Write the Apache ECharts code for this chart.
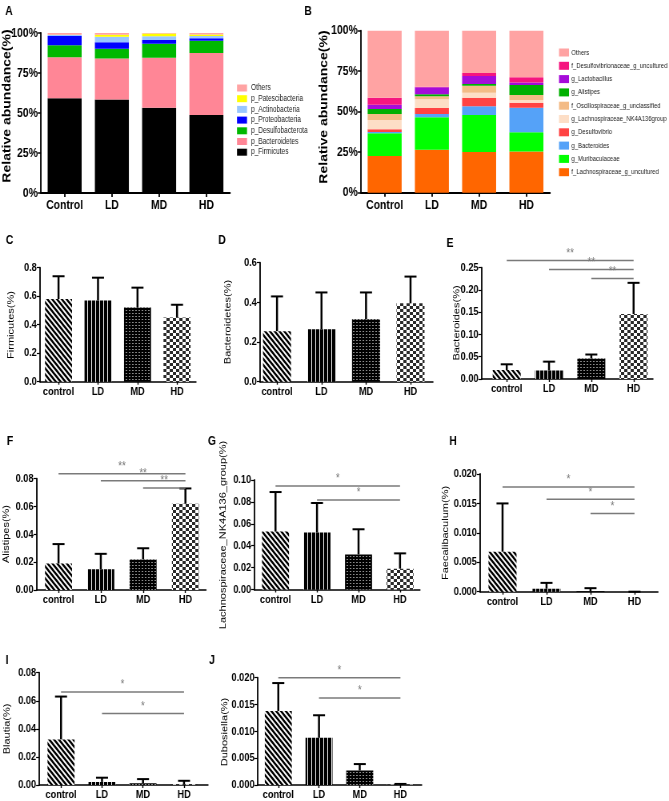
<!DOCTYPE html>
<html><head><meta charset="utf-8">
<script src="https://cdn.jsdelivr.net/npm/echarts@6/dist/echarts.min.js"></script>
<style>
html,body{margin:0;padding:0;background:#fff;overflow:hidden}
#wrap{width:669px;height:801px;overflow:hidden}
#c{width:836px;height:801px;transform:scaleX(0.80024);transform-origin:0 0}
</style>
</head><body><div id="wrap"><div id="c"></div></div>
<script>
// ---------------- DATA ----------------
const groupsAB = ['Control', 'LD', 'MD', 'HD'];
const groups = ['control', 'LD', 'MD', 'HD'];

// Panel A (phylum, %), bottom -> top
const phylumNames = ['p_Firmicutes', 'p_Bacteroidetes', 'p_Desulfobacterota', 'p_Proteobacteria', 'p_Actinobacteria', 'p_Patescibacteria', 'Others'];
const A_Firmicutes = [59.2, 58.5, 53.3, 48.8];
const A_Bacteroidetes = [25.6, 25.5, 31.3, 38.7];
const A_Desulfobacterota = [7.5, 6.2, 8.7, 7.7];
const A_Proteobacteria = [5.8, 4.0, 2.3, 1.5];
const A_Actinobacteria = [0.6, 3.5, 2.3, 1.5];
const A_Patescibacteria = [0.2, 1.2, 1.8, 0.9];
const A_Others = [1.1, 1.1, 0.3, 0.9];

// Panel B (genus, %), bottom -> top
const genusNames = ['f_Lachnospiraceae_g_uncultured', 'g_Muribaculaceae', 'g_Bacteroides', 'g_Desulfovibrio', 'g_Lachnospiraceae_NK4A136group', 'f_Oscillospiraceae_g_unclassified', 'g_Alistipes', 'g_Lactobacillus', 'f_Desulfovibrionaceae_g_uncultured', 'Others'];
const B_LachnoUncultured = [22.7, 26.5, 25.1, 25.5];
const B_Muribaculaceae = [14.0, 20.0, 22.9, 11.8];
const B_Bacteroides = [0.8, 2.1, 5.3, 15.2];
const B_Desulfovibrio = [1.6, 3.7, 5.3, 3.1];
const B_LachnoNK4A136 = [5.8, 5.4, 3.1, 1.6];
const B_Oscillospiraceae = [3.7, 1.8, 4.3, 3.1];
const B_Alistipes = [3.1, 1.2, 1.1, 6.2];
const B_Lactobacillus = [2.6, 4.4, 4.9, 1.6];
const B_DesulfoUncultured = [4.3, 0.3, 1.9, 3.1];
const B_Others = [41.4, 34.6, 26.1, 28.8];

// Panels C-J: mean and SD
const C_mean = [0.58, 0.57, 0.52, 0.45], C_sd = [0.16, 0.16, 0.14, 0.09];
const D_mean = [0.255, 0.265, 0.315, 0.395], D_sd = [0.175, 0.185, 0.135, 0.135];
const E_mean = [0.020, 0.019, 0.046, 0.146], E_sd = [0.013, 0.020, 0.009, 0.070];
const F_mean = [0.019, 0.015, 0.022, 0.062], F_sd = [0.014, 0.011, 0.008, 0.011];
const G_mean = [0.053, 0.052, 0.032, 0.019], G_sd = [0.036, 0.027, 0.023, 0.014];
const H_mean = [0.0068, 0.0005, 0.0001, 0.0], H_sd = [0.0082, 0.0010, 0.0005, 0.0];
const I_mean = [0.0325, 0.0022, 0.0012, 0.0006], I_sd = [0.0305, 0.0030, 0.0030, 0.0024];
const J_mean = [0.0138, 0.0088, 0.0027, 0.0001], J_sd = [0.0052, 0.0042, 0.0012, 0.0001];

// significance brackets: [fromGroup, toGroup, yValue]
const E_sig = [[0, 3, 0.266], [1, 3, 0.246], [2, 3, 0.226]], E_sigText = ['**', '**', '**'];
const F_sig = [[0, 3, 0.0835], [1, 3, 0.0786], [2, 3, 0.0734]], F_sigText = ['**', '**', '**'];
const G_sig = [[0, 3, 0.0945], [1, 3, 0.0817]], G_sigText = ['*', '*'];
const H_sig = [[0, 3, 0.0178], [1, 3, 0.0157], [2, 3, 0.0133]], H_sigText = ['*', '*', '*'];
const I_sig = [[0, 3, 0.0662], [1, 3, 0.051]], I_sigText = ['*', '*'];
const J_sig = [[0, 3, 0.0200], [1, 3, 0.0162]], J_sigText = ['*', '*'];

// ---------------- STYLE / LAYOUT ----------------
// The figure is horizontally condensed: the chart is drawn on a wider canvas and squeezed by S.
const S = 0.80024;
const X = v => v / S;
const FONT = "'Liberation Sans',Arial,sans-serif";
const colorsA = ['#000000', '#FF8696', '#00B800', '#0000FF', '#99C6FF', '#FFFF00', '#FFA3A3'];
const colorsB = ['#FF6600', '#00FF00', '#55A2F8', '#FF4343', '#FDDEC6', '#F3BB86', '#00B000', '#A50BD9', '#F5167F', '#FFA3A3'];

function makePattern(kind) {
  const c = document.createElement('canvas');
  const ctx = c.getContext('2d');
  if (kind === 'diag') {
    c.width = 6; c.height = 6;
    ctx.fillStyle = '#fff'; ctx.fillRect(0, 0, 6, 6);
    ctx.strokeStyle = '#000'; ctx.lineWidth = 2.3;
    for (let k = -2; k <= 2; k++) { ctx.beginPath(); ctx.moveTo(-1, -1 + k * 6); ctx.lineTo(7, 7 + k * 6); ctx.stroke(); }
  } else if (kind === 'vert') {
    c.width = 5; c.height = 4;
    ctx.fillStyle = '#000'; ctx.fillRect(0, 0, 5, 4);
    ctx.fillStyle = '#f0f0f0'; ctx.fillRect(4, 0, 1, 4);
  } else if (kind === 'dots') {
    c.width = 4; c.height = 3;
    ctx.fillStyle = '#000'; ctx.fillRect(0, 0, 4, 3);
    ctx.fillStyle = '#8a8a8a'; ctx.fillRect(1, 1, 2, 1);
  } else {
    c.width = 8; c.height = 6;
    ctx.fillStyle = '#fff'; ctx.fillRect(0, 0, 8, 6);
    ctx.fillStyle = '#2a2a2a'; ctx.fillRect(0, 0, 4, 3); ctx.fillRect(4, 3, 4, 3);
  }
  return { image: c, repeat: 'repeat' };
}
const patterns = [makePattern('diag'), makePattern('vert'), makePattern('dots'), makePattern('check')];

const grids = [], xAxes = [], yAxes = [], series = [], graphics = [];

function addText(x, y, text, size, bold, rot) {
  graphics.push({
    type: 'text', x: X(x), y: y, rotation: rot ? Math.PI / 2 : 0,
    style: { text: text, font: (bold ? 'bold ' : '') + size + 'px ' + FONT, fill: '#000',
      textAlign: 'center', textVerticalAlign: 'middle', align: 'center', verticalAlign: 'middle' }
  });
}

const axisLineStyle = { show: true, onZero: false, lineStyle: { color: '#000', width: 1.8 } };

// Stacked panels A, B
function addStacked(layout, names, arrays, colors, legendOrder, legendCfg) {
  const gi = grids.length;
  grids.push({ left: X(layout.left), top: layout.top, width: X(layout.width), height: layout.height });
  xAxes.push({ type: 'category', gridIndex: gi, data: groupsAB, axisLine: axisLineStyle,
    axisTick: { show: true, alignWithLabel: true, length: 4, lineStyle: { color: '#000', width: 1.8 } },
    axisLabel: { interval: 0, fontFamily: FONT, fontWeight: 'bold', fontSize: 13, color: '#000', margin: 6 } });
  yAxes.push({ type: 'value', gridIndex: gi, min: 0, max: 100, interval: 25, axisLine: axisLineStyle,
    axisTick: { show: true, length: 4, lineStyle: { color: '#000', width: 1.5 } },
    splitLine: { show: false },
    axisLabel: { fontFamily: FONT, fontWeight: 'bold', fontSize: 13, color: '#000', margin: 4, formatter: '{value}%' } });
  names.forEach((n, i) => {
    series.push({ type: 'bar', name: n, xAxisIndex: gi, yAxisIndex: gi, stack: 'st' + gi,
      barWidth: X(layout.barW), data: arrays[i], itemStyle: { color: colors[i] } });
  });
  legendCfg.data = legendOrder.map(i => ({ name: names[i], itemStyle: { color: colors[i] } }));
  return legendCfg;
}

function errRender(params, api) {
  const x = api.value(0), lo = api.value(1), hi = api.value(2);
  const p1 = api.coord([x, lo]), p2 = api.coord([x, hi]);
  const cw = X(6);
  return { type: 'group', children: [
    { type: 'line', shape: { x1: p1[0], y1: p1[1], x2: p2[0], y2: p2[1] }, style: { stroke: '#000', lineWidth: 2.5 } },
    { type: 'line', shape: { x1: p2[0] - cw, y1: p2[1], x2: p2[0] + cw, y2: p2[1] }, style: { stroke: '#000', lineWidth: 2 } }
  ] };
}

function addSimple(L, mean, sd, ymax, yint, dec, sig, sigText) {
  const gi = grids.length;
  grids.push({ left: X(L.axisX), top: L.top, width: X(L.end - L.axisX), height: L.zero - L.top });
  const xmin = -(L.c0 - L.axisX) / L.step;
  const xmax = xmin + (L.end - L.axisX) / L.step;
  xAxes.push({ type: 'value', gridIndex: gi, min: xmin, max: xmax, splitLine: { show: false },
    axisLine: { show: true, onZero: false, lineStyle: { color: '#000', width: 1.5 } },
    axisTick: { show: true, customValues: [0, 1, 2, 3], length: 3, lineStyle: { color: '#000', width: 1.4 } },
    axisLabel: { customValues: [0, 1, 2, 3], formatter: v => groups[Math.round(v)], fontFamily: FONT, fontWeight: 'bold', fontSize: 11.5, color: '#000', margin: 4 } });
  yAxes.push({ type: 'value', gridIndex: gi, min: 0, max: ymax, interval: yint, splitLine: { show: false },
    axisLine: { show: true, onZero: false, lineStyle: { color: '#000', width: 1.8 } },
    axisTick: { show: true, length: 4, lineStyle: { color: '#000', width: 1.2 } },
    axisLabel: { fontFamily: FONT, fontWeight: 'bold', fontSize: 11.5, color: '#000', margin: 4, formatter: v => v.toFixed(dec) } });
  series.push({ type: 'bar', xAxisIndex: gi, yAxisIndex: gi, barWidth: X(L.barW),
    data: mean.map((v, k) => ({ value: [k, v], itemStyle: { color: patterns[k] } })) });
  series.push({ type: 'custom', xAxisIndex: gi, yAxisIndex: gi, z: 5, renderItem: errRender,
    encode: { x: 0, y: [1, 2] }, data: mean.map((v, k) => [k, v, v + sd[k]]) });
  if (sig) {
    series.push({ type: 'custom', xAxisIndex: gi, yAxisIndex: gi, z: 6, clip: false,
      encode: { x: [0, 1], y: 2 }, data: sig,
      renderItem: function (params, api) {
        const a = api.coord([api.value(0), api.value(2)]);
        const b = api.coord([api.value(1), api.value(2)]);
        return { type: 'group', children: [
          { type: 'line', shape: { x1: a[0], y1: a[1], x2: b[0], y2: b[1] }, style: { stroke: '#7a7a7a', lineWidth: 1.5 } },
          { type: 'text', x: (a[0] + b[0]) / 2, y: a[1] - 1,
            style: { text: sigText[params.dataIndex], fill: '#7a7a7a', font: '12px ' + FONT,
              textAlign: 'center', textVerticalAlign: 'bottom', align: 'center', verticalAlign: 'bottom' } }
        ] };
      } });
  }
}

const legendA = addStacked({ left: 41, top: 33, width: 189, height: 160, barW: 34 }, phylumNames,
  [A_Firmicutes, A_Bacteroidetes, A_Desulfobacterota, A_Proteobacteria, A_Actinobacteria, A_Patescibacteria, A_Others],
  colorsA, [6, 5, 4, 3, 2, 1, 0],
  { orient: 'vertical', left: X(233), top: 78, itemWidth: X(10), itemHeight: 7, itemGap: 0.7, icon: 'rect', selectedMode: false,
    textStyle: { fontFamily: FONT, fontSize: 8.2, lineHeight: 10, color: '#222', padding: [0, 0, 0, 0] } });
const legendB = addStacked({ left: 361, top: 30.7, width: 189, height: 162, barW: 34 }, genusNames,
  [B_LachnoUncultured, B_Muribaculaceae, B_Bacteroides, B_Desulfovibrio, B_LachnoNK4A136, B_Oscillospiraceae, B_Alistipes, B_Lactobacillus, B_DesulfoUncultured, B_Others],
  colorsB, [9, 8, 7, 6, 5, 4, 3, 2, 1, 0],
  { orient: 'vertical', left: X(555), top: 42, itemWidth: X(10), itemHeight: 8, itemGap: 2.3, icon: 'rect', selectedMode: false,
    textStyle: { fontFamily: FONT, fontSize: 7.4, lineHeight: 11, color: '#222', padding: [0, 0, 0, -2] } });

addSimple({ axisX: 40, c0: 58.5, step: 39.5, end: 196, top: 267.7, zero: 381.7, barW: 27 }, C_mean, C_sd, 0.8, 0.2, 1);
addSimple({ axisX: 260, c0: 277, step: 44.5, end: 433, top: 262.7, zero: 381.7, barW: 28 }, D_mean, D_sd, 0.6, 0.2, 1);
addSimple({ axisX: 481.7, c0: 506.7, step: 42.3, end: 653, top: 267.7, zero: 379, barW: 28 }, E_mean, E_sd, 0.25, 0.05, 2, E_sig, E_sigText);
addSimple({ axisX: 36.7, c0: 58.5, step: 42.3, end: 206, top: 478.7, zero: 590, barW: 27 }, F_mean, F_sd, 0.08, 0.02, 2, F_sig, F_sigText);
addSimple({ axisX: 254.3, c0: 275.5, step: 41.5, end: 420, top: 480, zero: 589.5, barW: 27 }, G_mean, G_sd, 0.10, 0.02, 2, G_sig, G_sigText);
addSimple({ axisX: 480, c0: 502.5, step: 44, end: 658, top: 474, zero: 591.7, barW: 28 }, H_mean, H_sd, 0.020, 0.005, 3, H_sig, H_sigText);
addSimple({ axisX: 39.3, c0: 61, step: 41, end: 208, top: 672.7, zero: 785, barW: 27 }, I_mean, I_sd, 0.08, 0.02, 2, I_sig, I_sigText);
addSimple({ axisX: 257.7, c0: 278.3, step: 40.7, end: 421.7, top: 677.7, zero: 786, barW: 27 }, J_mean, J_sd, 0.020, 0.005, 3, J_sig, J_sigText);

// panel letters
[['A', 9, 11], ['B', 308, 11], ['C', 9.5, 240], ['D', 222, 240], ['E', 450, 243],
 ['F', 10, 441], ['G', 212, 441], ['H', 453, 441], ['I', 7, 660], ['J', 212, 660]]
  .forEach(t => addText(t[1], t[2], t[0], 13, true, false));
// y-axis titles
addText(7.5, 106, 'Relative abundance(%)', 14, true, true);
addText(324, 107, 'Relative abundance(%)', 14, true, true);
addText(11, 325, 'Firmicutes(%)', 11, false, true);
addText(228, 322, 'Bacteroidetes(%)', 11, false, true);
addText(457, 323, 'Bacteroides(%)', 11, false, true);
addText(6.5, 534, 'Alistipes(%)', 11, false, true);
addText(223, 535, 'Lachnospiraceae_NK4A136_group(%)', 11, false, true);
addText(446, 533, 'Faecalibaculum(%)', 11, false, true);
addText(7.5, 729, 'Blautia(%)', 11, false, true);
addText(225, 732, 'Dubosiella(%)', 11, false, true);

const chart = echarts.init(document.getElementById('c'), null, { renderer: 'canvas' });
chart.setOption({
  animation: false,
  backgroundColor: '#fff',
  grid: grids, xAxis: xAxes, yAxis: yAxes, series: series,
  legend: [legendA, legendB],
  graphic: graphics
});
</script></body></html>
